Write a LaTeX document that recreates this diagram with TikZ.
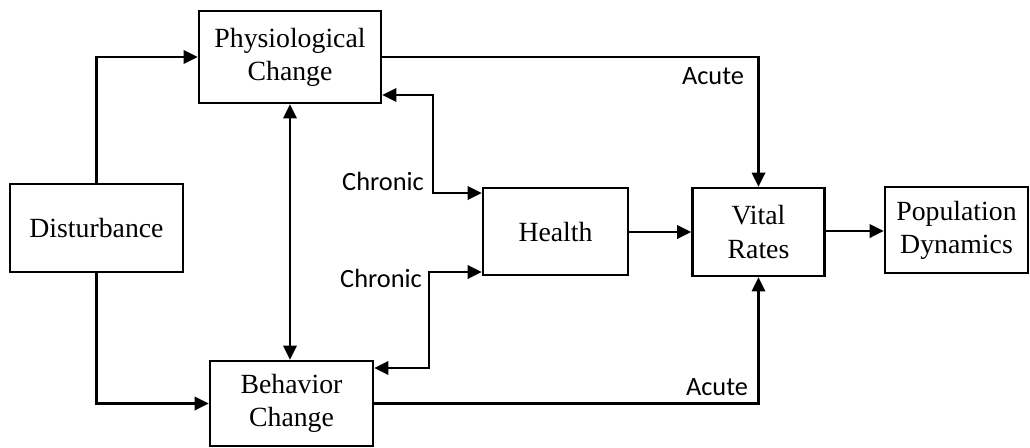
\documentclass[tikz,border=0pt]{standalone}
\usepackage{fontspec}
\setmainfont{Liberation Serif}
\newfontfamily\lblfont{Carlito}
\usetikzlibrary{arrows.meta}

\begin{document}
\begin{tikzpicture}[x=0.02cm, y=-0.02cm,
    box/.style={draw, line width=1.4pt, inner sep=0pt, align=center,
        font=\fontsize{15.8}{18.8}\selectfont},
    lbl/.style={font=\lblfont\fontsize{15}{18}\selectfont},
    link/.style={line width=1.3pt, -{Triangle[length=8pt, width=7.6pt]}},
    both/.style={line width=1.3pt, {Triangle[length=8pt, width=7.6pt]}-{Triangle[length=8pt, width=7.6pt]}}]
    \useasboundingbox (0,0) rectangle (1030,447);

    % boxes
    \node[box, minimum width=3.46cm, minimum height=1.76cm] (dist) at (96.5,228) {Disturbance};
    \node[box, minimum width=3.64cm, minimum height=1.84cm] (phys) at (290,57) {Physiological\\Change};
    \node[box, minimum width=3.26cm, minimum height=1.70cm] (behav) at (291.5,403.5) {Behavior\\Change};
    \node[box, minimum width=2.90cm, minimum height=1.74cm] (health) at (555.5,231.5) {Health};
    \node[box, minimum width=2.64cm, minimum height=1.76cm] (vital) at (758.5,232) {Vital\\Rates};
    \node[box, minimum width=2.86cm, minimum height=1.72cm] (pop) at (956.5,230) {Population\\Dynamics};

    % disturbance to responses
    \draw[link] (dist.north) |- (phys.west);
    \draw[link] (dist.south) |- (behav.west);
    \draw[both] (phys.south) -- (phys.south |- behav.north);

    % chronic paths
    \coordinate (c1) at (433,95);
    \coordinate (c2) at (429,368);
    \draw[both] (phys.east |- c1) -- (c1) |- (health.west |- 0,193);
    \draw[both] (behav.east |- c2) -- (c2) |- (health.west |- 0,272);
    \node[lbl] (chr1) at (383,181) {Chronic};
    \node[lbl] (chr2) at (381,278) {Chronic};

    % acute paths
    \draw[link] (phys.east) -| (vital.north);
    \draw[link] (behav.east) -| (vital.south);
    \node[lbl] (ac1) at (713,76) {Acute};
    \node[lbl] (ac2) at (717,387) {Acute};

    \draw[link] (health.east |- 0,232) -- (vital.west |- 0,232);
    \draw[link] (vital.east |- 0,231) -- (pop.west |- 0,231);
\end{tikzpicture}
\end{document}
